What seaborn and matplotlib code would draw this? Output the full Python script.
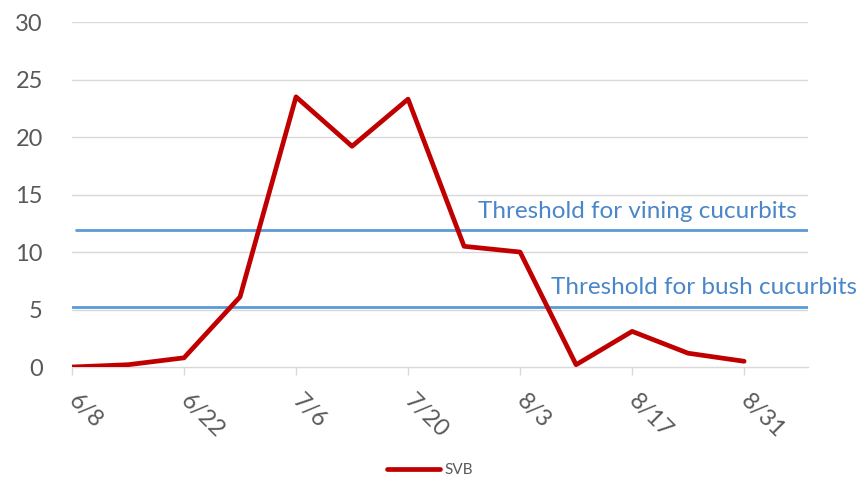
import pandas as pd
import matplotlib.pyplot as plt
import seaborn as sns

# Weekly SVB counts
dates = ['6/8', '6/15', '6/22', '6/29', '7/6', '7/13', '7/20',
         '7/27', '8/3', '8/10', '8/17', '8/24', '8/31']
svb = [0.0, 0.2, 0.8, 6.1, 23.5, 19.2, 23.3, 10.5, 10.0, 0.2, 3.1, 1.2, 0.5]
tick_labels = ['6/8', '6/22', '7/6', '7/20', '8/3', '8/17', '8/31']
vining_threshold = 11.9
bush_threshold = 5.2

df = pd.DataFrame({'date': dates, 'SVB': svb})
day0 = pd.to_datetime('2019/' + dates[0])
df['day'] = (pd.to_datetime('2019/' + df['date']) - day0).dt.days

sns.set_style('white')
plt.rcParams['font.family'] = ['Lato', 'DejaVu Sans']

fig = plt.figure(figsize=(8.6, 4.91), dpi=100)
ax = fig.add_axes([0.0837, 0.2525, 0.856, 0.7025])

grey = '#595959'
for y in range(5, 31, 5):
    ax.axhline(y, color='#d9d9d9', lw=1, zorder=0)

ax.axhline(vining_threshold, xmin=0.005, color='#5b9bd5', lw=2, zorder=1)
ax.axhline(bush_threshold, color='#5b9bd5', lw=2, zorder=1)

sns.lineplot(data=df, x='day', y='SVB', color='#c00000', lw=3.4, ax=ax,
             label='SVB', zorder=3)

ax.text(50.7, 13.5, 'Threshold for vining cucurbits', color='#4a86c8',
        fontsize=17.5, va='center')
ax.text(59.9, 6.9, 'Threshold for bush cucurbits', color='#4a86c8',
        fontsize=17.5, va='center')

ax.set_xlim(0, 92)
ax.set_ylim(0, 30)
tick_days = df.loc[df['date'].isin(tick_labels), 'day']
ax.set_xticks(tick_days)
ax.set_xticklabels(tick_labels, rotation=-45, ha='left', va='center',
                   rotation_mode='anchor')
ax.set_yticks(range(0, 31, 5))
ax.tick_params(axis='x', colors=grey, labelsize=17, length=6, width=1,
               direction='out', bottom=True, pad=16, color='#d9d9d9')
ax.tick_params(axis='y', colors=grey, labelsize=17, length=0, pad=21)
for lbl in ax.get_xticklabels():
    lbl.set_color(grey)

ax.set_xlabel('')
ax.set_ylabel('')
for side in ['top', 'right', 'left']:
    ax.spines[side].set_visible(False)
ax.spines['bottom'].set_color('#d9d9d9')
ax.spines['bottom'].set_linewidth(1)

ax.get_legend().remove()
handles, labels = ax.get_legend_handles_labels()
fig.legend(handles, labels, loc='lower center', bbox_to_anchor=(0.5, 0.0),
           frameon=False, fontsize=11, labelcolor=grey, handlelength=3.5,
           handletextpad=0.3)

fig.savefig('out.png', dpi=100)
